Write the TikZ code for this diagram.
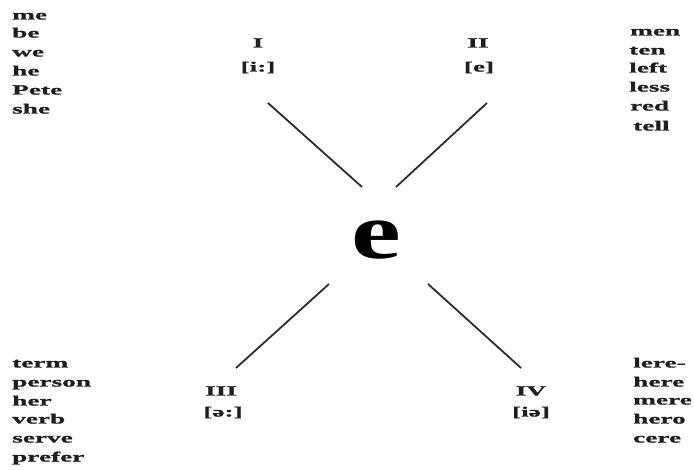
\documentclass[tikz,border=0pt]{standalone}
\usepackage{fontspec}
\setmainfont{Liberation Serif}
\newfontfamily\widefont[FakeStretch=1.95,FakeBold=1.2]{Liberation Serif}
\newfontfamily\bigfont[FakeStretch=1.4]{Liberation Serif}
\definecolor{ink}{HTML}{1E1E1E}
\definecolor{linegray}{HTML}{2C2C2C}
\begin{document}
\begin{tikzpicture}[x=1pt,y=-1pt,
  word/.style={anchor=west,inner sep=0pt,text height=9.5pt,text depth=2.5pt,
    font=\widefont\bfseries\fontsize{14}{16}\selectfont,text=ink},
  label/.style={anchor=center,inner sep=0pt,text height=9.5pt,text depth=2.5pt,
    font=\widefont\bfseries\fontsize{14}{16}\selectfont,text=ink},
  connector/.style={draw=linegray,line width=1.8pt}]
\useasboundingbox (0,0) rectangle (694,470);
% top left column
\node[word] (w1) at (12,16) {me};
\node[word] (w2) at (12,34) {be};
\node[word] (w3) at (12,53) {we};
\node[word] (w4) at (12,72) {he};
\node[word] (w5) at (12,91) {Pete};
\node[word] (w6) at (12,110) {she};
% top right column
\node[word] (r1) at (630,32) {men};
\node[word] (r2) at (629,51) {ten};
\node[word] (r3) at (629,69) {left};
\node[word] (r4) at (629,88) {less};
\node[word] (r5) at (630,107) {red};
\node[word] (r6) at (633,127) {tell};
% bottom left column
\node[word] (b1) at (12,364) {term};
\node[word] (b2) at (12,383) {person};
\node[word] (b3) at (12,402) {her};
\node[word] (b4) at (12,420) {verb};
\node[word] (b5) at (12,439) {serve};
\node[word] (b6) at (12,458) {prefer};
% bottom right column
\node[word] (c1) at (633,364) {lere-};
\node[word] (c2) at (633,383) {here};
\node[word] (c3) at (633,401) {mere};
\node[word] (c4) at (633,420) {hero};
\node[word] (c5) at (633,439) {cere};
% labels
\node[label] (n1) at (258,44) {I};
\node[label] (p1) at (258,68) {[i:]};
\node[label] (n2) at (478,44) {II};
\node[label] (p2) at (479,68) {[e]};
\node[label] (n3) at (221,392) {III};
\node[label] (p3) at (223,413) {[ə:]};
\node[label] (n4) at (531,392) {IV};
\node[label] (p4) at (531,413) {[iə]};
% centre letter
\node[inner sep=0pt,text=black,font=\bigfont\bfseries\fontsize{80}{90}\selectfont] (e) at (376,240) {e};
% connector ends
\coordinate (a1) at (268,103);
\coordinate (a2) at (362,187);
\coordinate (b1e) at (487,103);
\coordinate (b2e) at (396,187);
\coordinate (c1e) at (329,284);
\coordinate (c2e) at (236,368);
\coordinate (d1e) at (428,284);
\coordinate (d2e) at (521,368);
\draw[connector] (a1) -- (a2);
\draw[connector] (b1e) -- (b2e);
\draw[connector] (c1e) -- (c2e);
\draw[connector] (d1e) -- (d2e);
\end{tikzpicture}
\end{document}
